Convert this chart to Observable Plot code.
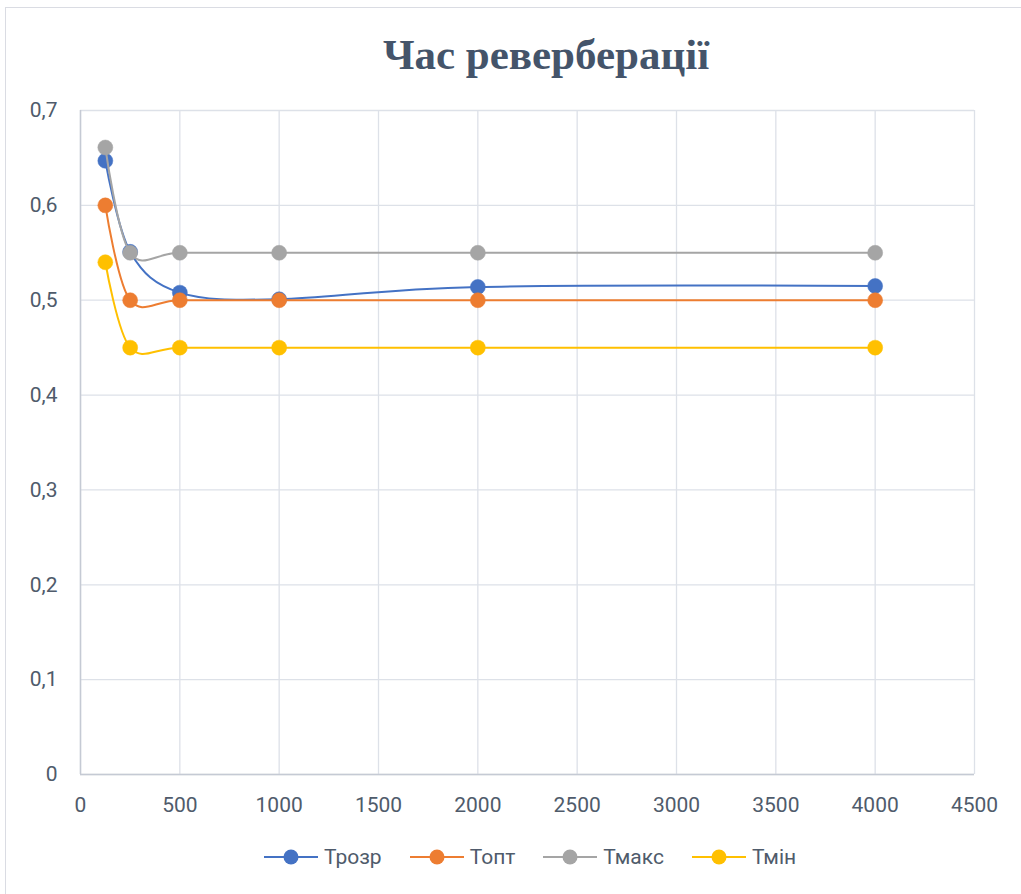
<!DOCTYPE html>
<html>
<head>
<meta charset="utf-8">
<script src="https://cdn.jsdelivr.net/npm/d3@7"></script>
<script src="https://cdn.jsdelivr.net/npm/@observablehq/plot@0.6"></script>
<style>
  body { margin: 0; background: #fff; width: 1021px; height: 894px; overflow: hidden; position: relative; }
  #frame { position: absolute; left: 5px; top: 7px; width: 1030px; height: 900px; border: 1px solid #DADCE3; box-sizing: border-box; }
  #title { position: absolute; left: 0; top: 33px; width: 1092px; text-align: center; font-family: "Liberation Serif", "Times New Roman", serif; font-weight: bold; font-size: 43px; line-height: 43px; color: #44546A; white-space: nowrap; }
  #chart { position: absolute; left: 0; top: 90px; }
  #legend { position: absolute; left: 264px; top: 845px; display: flex; align-items: center; font-family: Roboto, sans-serif; font-size: 21px; color: #4F5B6B; }
  .item { display: flex; align-items: center; margin-right: 28px; }
  .item svg { margin-right: 6px; }
</style>
</head>
<body>
<div id="frame"></div>
<div id="title">Час реверберації</div>
<div id="chart"></div>
<div id="legend"></div>
<script>
const freqs = [125, 250, 500, 1000, 2000, 4000];
const seriesNames = ["Трозр", "Топт", "Тмакс", "Тмін"];
const seriesColors = ["#4472C4", "#ED7D31", "#A5A5A5", "#FFC000"];
const tRozr = [0.647, 0.551, 0.508, 0.501, 0.514, 0.515];
const tOpt  = [0.600, 0.500, 0.500, 0.500, 0.500, 0.500];
const tMaks = [0.661, 0.550, 0.550, 0.550, 0.550, 0.550];
const tMin  = [0.540, 0.450, 0.450, 0.450, 0.450, 0.450];
const xTicks = [0, 500, 1000, 1500, 2000, 2500, 3000, 3500, 4000, 4500];
const yTicks = [0, 0.1, 0.2, 0.3, 0.4, 0.5, 0.6, 0.7];

const allValues = [tRozr, tOpt, tMaks, tMin];
const data = [];
allValues.forEach((vals, si) => {
  vals.forEach((v, i) => data.push({series: seriesNames[si], f: freqs[i], t: v}));
});

const fmtY = d => d === 0 ? "0" : String(+d.toFixed(1)).replace(".", ",");
const fmtX = d => String(d);
const grid = "#DDE1E8";
const axisLine = "#C5CAD4";

const marks = [
  Plot.ruleX(xTicks, {stroke: grid, strokeWidth: 1.3}),
  Plot.ruleY(yTicks, {stroke: grid, strokeWidth: 1.3}),
  Plot.ruleX([0], {stroke: axisLine, strokeWidth: 1.5}),
  Plot.ruleY([0], {stroke: axisLine, strokeWidth: 1.5}),
  Plot.axisX(xTicks, {tickSize: 0, tickPadding: 23, fontSize: 21, fill: "#4F5B6B", tickFormat: fmtX, label: null}),
  Plot.axisY(yTicks, {tickSize: 0, tickPadding: 23, fontSize: 21, fill: "#4F5B6B", tickFormat: fmtY, label: null})
];
seriesNames.forEach((name, si) => {
  const d = data.filter(r => r.series === name);
  marks.push(Plot.line(d, {x: "f", y: "t", stroke: seriesColors[si], strokeWidth: 2, curve: "cardinal"}));
  marks.push(Plot.dot(d, {x: "f", y: "t", fill: seriesColors[si], r: 7.5, stroke: seriesColors[si], strokeWidth: 0.5}));
});

const plot = Plot.plot({
  width: 1021,
  height: 730,
  marginLeft: 80,
  marginRight: 47,
  marginTop: 20,
  marginBottom: 46,
  style: {fontFamily: "Roboto, sans-serif", background: "transparent", overflow: "visible"},
  x: {domain: [0, 4500], ticks: xTicks},
  y: {domain: [0, 0.7], ticks: yTicks},
  marks
});
document.getElementById("chart").appendChild(plot);

const legend = document.getElementById("legend");
seriesNames.forEach((name, si) => {
  const item = document.createElement("div");
  item.className = "item";
  item.innerHTML = `<svg width="54" height="20"><line x1="0" y1="10" x2="54" y2="10" stroke="${seriesColors[si]}" stroke-width="2"/><circle cx="27" cy="10" r="7.5" fill="${seriesColors[si]}"/></svg><span>${name}</span>`;
  legend.appendChild(item);
});
</script>
</body>
</html>
